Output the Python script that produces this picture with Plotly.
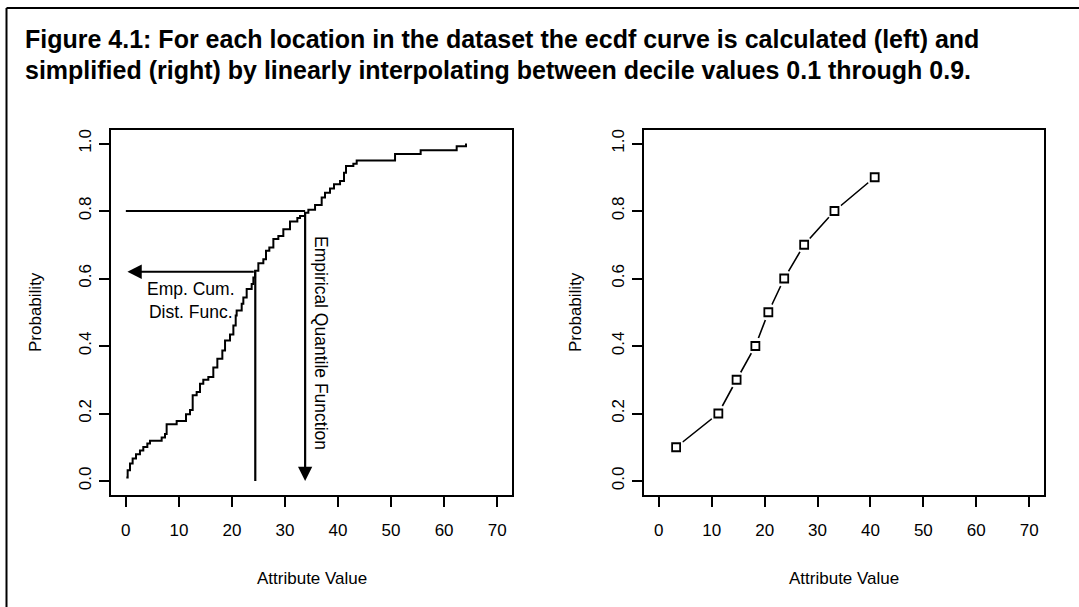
import plotly.graph_objects as go

# ---------------- data ----------------
title_lines = [
    "Figure 4.1: For each location in the dataset the ecdf curve is calculated (left) and",
    "simplified (right) by linearly interpolating between decile values 0.1 through 0.9.",
]

# empirical CDF (left panel): step vertices
ecdf_x = [0.09, 0.34, 0.78, 1.28, 1.91, 2.66, 3.29, 4.05, 4.55, 6.75, 7.38, 7.69,
          9.58, 11.34, 12.09, 12.6, 13.35, 13.98, 14.6, 15.55, 16.49, 17.25, 18.19,
          18.7, 19.64, 20.27, 20.71, 20.89, 21.84, 22.15, 22.78, 23.72, 24.04, 24.36,
          24.98, 25.92, 26.42, 27.05, 27.81, 28.75, 29.69, 30.95, 32.33, 32.84, 33.78,
          34.41, 35.67, 36.92, 37.55, 38.49, 39.24, 40.38, 41.13, 41.51, 42.89, 43.52,
          50.75, 55.58, 62.37, 64.13]
ecdf_p = [0.010, 0.032, 0.052, 0.067, 0.079, 0.090, 0.101, 0.111, 0.119, 0.129, 0.139,
          0.168, 0.178, 0.198, 0.210, 0.254, 0.264, 0.288, 0.300, 0.308, 0.336, 0.362,
          0.387, 0.416, 0.434, 0.461, 0.490, 0.505, 0.525, 0.544, 0.569, 0.584, 0.603,
          0.623, 0.645, 0.657, 0.682, 0.692, 0.717, 0.726, 0.746, 0.769, 0.779, 0.785,
          0.795, 0.804, 0.818, 0.840, 0.854, 0.867, 0.879, 0.889, 0.913, 0.933, 0.940,
          0.950, 0.969, 0.980, 0.992, 1.000]

# decile values (right panel)
decile_x = [3.27, 11.25, 14.7, 18.25, 20.7, 23.7, 27.47, 33.2, 40.8]
decile_p = [0.1, 0.2, 0.3, 0.4, 0.5, 0.6, 0.7, 0.8, 0.9]

# illustration arrows on the left panel
ecdf_example_x = 24.4
ecdf_example_p = 0.62
eqf_example_p = 0.8
eqf_example_x = 33.8

x_lim = [0, 70]
y_lim = [0, 1]
x_ticks = [0, 10, 20, 30, 40, 50, 60, 70]
y_ticks = [0.0, 0.2, 0.4, 0.6, 0.8, 1.0]
y_tick_text = ["0.0", "0.2", "0.4", "0.6", "0.8", "1.0"]
x_label = "Attribute Value"
y_label = "Probability"
label_ecdf = "Emp. Cum.<br>Dist. Func."
label_eqf = "Empirical Quantile Function"

# ---------------- figure ----------------
W, H = 1079, 607
FONT = "Liberation Sans, Arial, Helvetica, sans-serif"
BLACK = "#000000"


def r_range(lim):
    d = lim[1] - lim[0]
    return [lim[0] - 0.04 * d, lim[1] + 0.04 * d]


def px(xp):
    return xp / W


def py(yp):
    return 1 - yp / H


fig = go.Figure()

# left panel: ecdf step curve
fig.add_trace(go.Scatter(x=ecdf_x, y=ecdf_p, mode="lines", line_shape="hv",
                         line=dict(color=BLACK, width=2), xaxis="x", yaxis="y",
                         hoverinfo="skip", showlegend=False))
# quantile-function horizontal line at p = 0.8
fig.add_trace(go.Scatter(x=[x_lim[0], eqf_example_x], y=[eqf_example_p, eqf_example_p],
                         mode="lines", line=dict(color=BLACK, width=2.2),
                         xaxis="x", yaxis="y", hoverinfo="skip", showlegend=False))
# ecdf vertical line at x = 24.4
fig.add_trace(go.Scatter(x=[ecdf_example_x, ecdf_example_x], y=[y_lim[0], ecdf_example_p],
                         mode="lines", line=dict(color=BLACK, width=2.2),
                         xaxis="x", yaxis="y", hoverinfo="skip", showlegend=False))

# right panel: line, white gaps, open squares
fig.add_trace(go.Scatter(x=decile_x, y=decile_p, mode="lines",
                         line=dict(color=BLACK, width=1.6), xaxis="x2", yaxis="y2",
                         hoverinfo="skip", showlegend=False))
fig.add_trace(go.Scatter(x=decile_x, y=decile_p, mode="markers",
                         marker=dict(symbol="circle", size=17, color="white",
                                     line=dict(width=0)),
                         xaxis="x2", yaxis="y2", hoverinfo="skip", showlegend=False))
fig.add_trace(go.Scatter(x=decile_x, y=decile_p, mode="markers",
                         marker=dict(symbol="square", size=8, color="white",
                                     line=dict(width=1.8, color=BLACK)),
                         xaxis="x2", yaxis="y2", hoverinfo="skip", showlegend=False))

# plot box geometry (pixels)
box_top, box_bottom = 130, 494.5
left_box = (111, 512)
right_box = (644, 1044)

axis_common = dict(
    showline=True, linecolor=BLACK, linewidth=2, mirror=True,
    ticks="outside", ticklen=10, tickwidth=1.6, tickcolor=BLACK,
    showgrid=False, zeroline=False,
    tickfont=dict(family=FONT, size=17, color=BLACK),
    fixedrange=True,
)

fig.update_layout(
    width=W, height=H,
    margin=dict(l=0, r=0, t=0, b=0, pad=0),
    paper_bgcolor="white", plot_bgcolor="white",
    showlegend=False,
    xaxis=dict(domain=[px(left_box[0]), px(left_box[1])], range=r_range(x_lim),
               tickmode="array", tickvals=x_ticks, anchor="y",
               ticklabelstandoff=9, **axis_common),
    yaxis=dict(domain=[py(box_bottom), py(box_top)], range=r_range(y_lim),
               tickmode="array", tickvals=y_ticks, ticktext=y_tick_text,
               tickangle=-90, anchor="x", ticklabelstandoff=1, **axis_common),
    xaxis2=dict(domain=[px(right_box[0]), px(right_box[1])], range=r_range(x_lim),
                tickmode="array", tickvals=x_ticks, anchor="y2",
                ticklabelstandoff=9, **axis_common),
    yaxis2=dict(domain=[py(box_bottom), py(box_top)], range=r_range(y_lim),
                tickmode="array", tickvals=y_ticks, ticktext=y_tick_text,
                tickangle=-90, anchor="x2", ticklabelstandoff=1, **axis_common),
)

annotations = []
# title
for i, line in enumerate(title_lines):
    annotations.append(dict(
        text="<b>" + line + "</b>", xref="paper", yref="paper",
        x=px(23), y=py(39 + 30.5 * i), xanchor="left", yanchor="middle",
        showarrow=False, font=dict(family=FONT, size=25, color=BLACK)))

# axis titles
for cx in [(left_box[0] + left_box[1]) / 2, (right_box[0] + right_box[1]) / 2]:
    annotations.append(dict(
        text=x_label, xref="paper", yref="paper", x=px(cx), y=py(578),
        xanchor="center", yanchor="middle", showarrow=False,
        font=dict(family=FONT, size=17, color=BLACK)))
for cx in [35, 575]:
    annotations.append(dict(
        text=y_label, xref="paper", yref="paper", x=px(cx), y=py(312),
        xanchor="center", yanchor="middle", showarrow=False, textangle=-90,
        font=dict(family=FONT, size=17, color=BLACK)))

# left panel labels
annotations.append(dict(
    text=label_ecdf, xref="x", yref="y", x=12.3, y=0.535,
    xanchor="center", yanchor="middle", showarrow=False,
    font=dict(family=FONT, size=17.5, color=BLACK)))
annotations.append(dict(
    text=label_eqf, xref="x", yref="y", x=36.9, y=0.41,
    xanchor="center", yanchor="middle", showarrow=False, textangle=90,
    font=dict(family=FONT, size=17.5, color=BLACK)))

# arrows
annotations.append(dict(
    x=0.3, y=ecdf_example_p, ax=ecdf_example_x, ay=ecdf_example_p,
    xref="x", yref="y", axref="x", ayref="y", text="", showarrow=True,
    arrowhead=2, arrowsize=1.3, arrowwidth=2.2, arrowcolor=BLACK, standoff=0))
annotations.append(dict(
    x=eqf_example_x, y=0.0, ax=eqf_example_x, ay=eqf_example_p,
    xref="x", yref="y", axref="x", ayref="y", text="", showarrow=True,
    arrowhead=2, arrowsize=1.3, arrowwidth=2.2, arrowcolor=BLACK, standoff=0))

fig.update_layout(annotations=annotations)

# outer frame (top and left edges)
fig.update_layout(shapes=[
    dict(type="line", xref="paper", yref="paper", x0=px(6.5), x1=1.01,
         y0=py(8), y1=py(8), line=dict(color=BLACK, width=2)),
    dict(type="line", xref="paper", yref="paper", x0=px(6.5), x1=px(6.5),
         y0=py(8), y1=-0.01, line=dict(color=BLACK, width=2)),
])

fig.write_html("out.html", config={"displayModeBar": False})
